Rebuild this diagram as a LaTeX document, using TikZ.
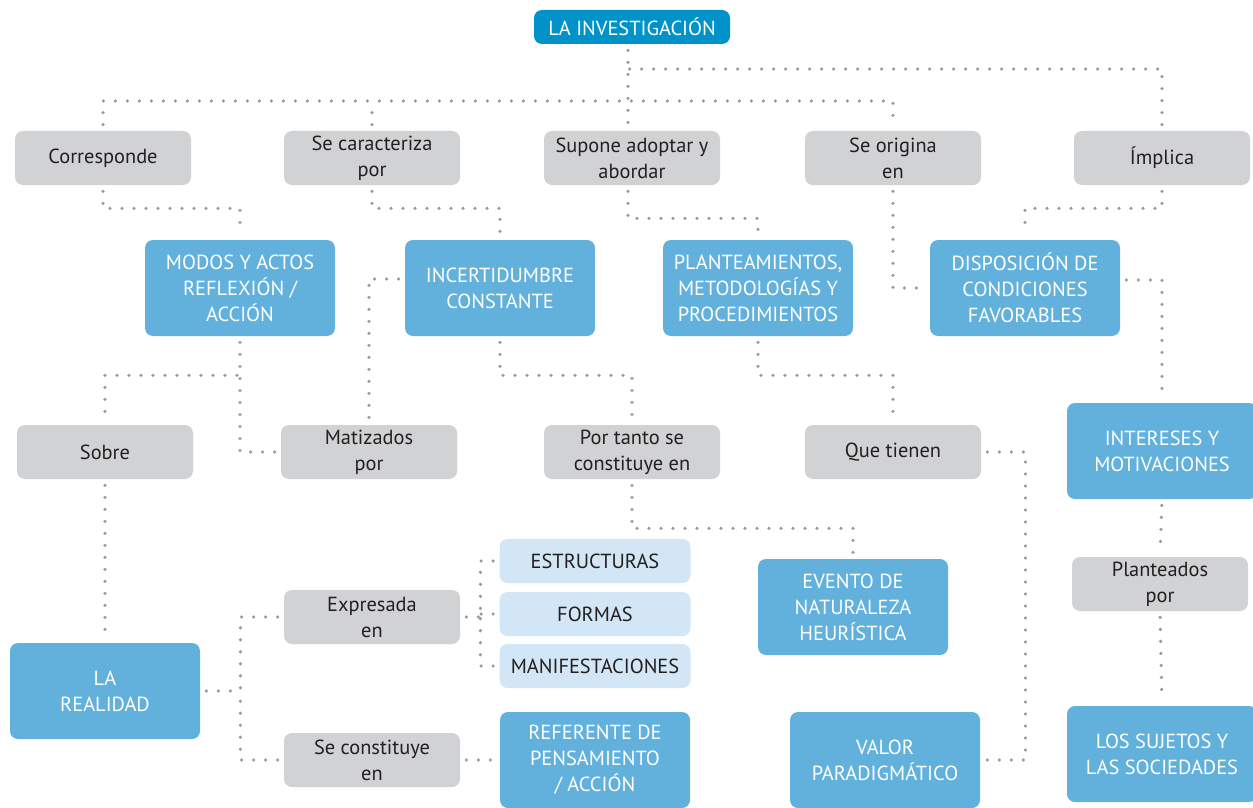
\documentclass[tikz,border=0pt]{standalone}
\usepackage{fontspec}
\setmainfont{PT Sans}
\usetikzlibrary{positioning}
\definecolor{topblue}{HTML}{0092C8}
\definecolor{boxblue}{HTML}{62B1DD}
\definecolor{paleblue}{HTML}{D3E6F6}
\definecolor{boxgray}{HTML}{D1D2D4}
\definecolor{dotgray}{HTML}{989A9D}
\definecolor{ink}{HTML}{231F20}
\tikzset{
	every node/.style={
		font=\fontsize{10.2}{13}\selectfont,
		align=center,
		inner sep=2pt,
		rounded corners=4pt
	},
	title/.style={fill=topblue, text=white, minimum width=98pt, minimum height=17pt},
	link/.style={fill=boxgray, text=ink, minimum width=88pt, minimum height=27pt},
	concept/.style={fill=boxblue, text=white, minimum width=95pt, minimum height=48pt},
	detail/.style={fill=paleblue, text=ink, minimum width=95.5pt, minimum height=22pt},
	conn/.style={
		dotgray,
		line width=1.8pt,
		line cap=round,
		dash pattern=on 0pt off 6pt,
		shorten <=3pt,
		shorten >=3pt
	},
	branch/.style={
		conn,
		shorten >=0pt
	}
}

\begin{document}
\begin{tikzpicture}[x=0.5pt,y=-0.5pt]
	\useasboundingbox (0,0) rectangle (1253,808);
	\draw
		node[title]   (top)       at (632,27)   {LA INVESTIGACIÓN}

		node[link]    (corresp)   at (103,158)  {Corresponde}
		node[link]    (caracter)  at (372,158)  {Se caracteriza\\por}
		node[link]    (supone)    at (632,158)  {Supone adoptar y\\abordar}
		node[link]    (origina)   at (893,158)  {Se origina\\en}
		node[link]    (implica)   at (1162,158) {Ímplica}

		node[concept] (modos)     at (240,288)  {MODOS Y ACTOS\\REFLEXIÓN /\\ACCIÓN}
		node[concept] (incert)    at (500,288)  {INCERTIDUMBRE\\CONSTANTE}
		node[concept] (plante)    at (758,288)  {PLANTEAMIENTOS,\\METODOLOGÍAS Y\\PROCEDIMIENTOS}
		node[concept] (dispos)    at (1025,288) {DISPOSICIÓN DE\\CONDICIONES\\FAVORABLES}

		node[link]    (sobre)     at (105,452)  {Sobre}
		node[link]    (matiz)     at (369,452)  {Matizados\\por}
		node[link]    (portanto)  at (632,452)  {Por tanto se\\constituye en}
		node[link]    (quetien)   at (893,452)  {Que tienen}
		node[concept] (intereses) at (1162,451) {INTERESES Y\\MOTIVACIONES}

		node[link]    (plantead)  at (1160,584) {Planteados\\por}
		node[concept] (sujetos)   at (1162,754) {LOS SUJETOS Y\\LAS SOCIEDADES}

		node[concept] (evento)    at (853,607)  {EVENTO DE\\NATURALEZA\\HEURÍSTICA}
		node[concept] (valor)     at (885,760)  {VALOR\\PARADIGMÁTICO}

		node[concept] (realidad)  at (105,691)  {LA\\REALIDAD}
		node[link]    (expres)    at (372,617)  {Expresada\\en}
		node[link]    (seconst)   at (372,760)  {Se constituye\\en}

		node[detail]  (estruct)   at (595,561)  {ESTRUCTURAS}
		node[detail]  (formas)    at (595,614)  {FORMAS}
		node[detail]  (manif)     at (595,666)  {MANIFESTACIONES}
		node[concept] (referente) at (595,760)  {REFERENTE DE\\PENSAMIENTO\\/ ACCIÓN}
	;

	\coordinate (hub)  at (628,101);
	\coordinate (fork) at (628,69);

	% first level
	\draw[conn] (top.south -| hub) -- (hub |- supone.north);
	\draw[conn] (corresp.north) |- (hub) -| (origina.north);
	\draw[branch] (caracter.north) -- (caracter.north |- hub);
	\draw[branch] (implica.north) |- (fork);

	% second level
	\draw[conn] (corresp.south) -- ++(0,23) -| (modos.north);
	\draw[conn] (caracter.south) -- ++(0,23) -| (incert.north);
	\draw[conn] (hub |- supone.south) -- ++(0,33) -| (plante.north);
	\draw[conn] (origina.south) |- (dispos.west);
	\draw[conn] (implica.south) -- ++(0,23) -| (dispos.north);
	\draw[conn] ([yshift=4pt]dispos.east) -| (intereses.north);

	% third level
	\draw[conn] (modos.south) -- ++(0,39) coordinate (mjoin) -| (sobre.north);
	\draw[branch] (matiz.west) -| (mjoin);
	\draw[conn] ([yshift=4.5pt]incert.west) -| (matiz.north);
	\draw[conn] (incert.south) -- ++(0,39) -| (portanto.north);
	\draw[conn] (plante.south) -- ++(0,39) -| (quetien.north);

	% lower part
	\draw[conn] (sobre.south) -- (realidad.north);
	\draw[conn] (portanto.south) -- ++(0,49) -| (evento.north);
	\draw[conn] (quetien.east) -- ++(44,0) |- (valor.east);
	\draw[conn] (intereses.south) -- (plantead.north);
	\draw[conn] (plantead.south) -- (sujetos.north);

	\draw[conn, shorten >=0pt] (realidad.east) -- ++(40,0) coordinate (rjoin);
	\draw[branch] (expres.west) -| (rjoin);
	\draw[branch] (seconst.west) -| (rjoin);

	\draw[conn, shorten >=0pt] (expres.east) -- ++(20,0) coordinate (ejoin);
	\draw[branch] (estruct.west) -| (ejoin);
	\draw[branch] (formas.west) -| (ejoin);
	\draw[branch] (manif.west) -| (ejoin);

	\draw[conn] (seconst.east) -- (referente.west);
\end{tikzpicture}
\end{document}
